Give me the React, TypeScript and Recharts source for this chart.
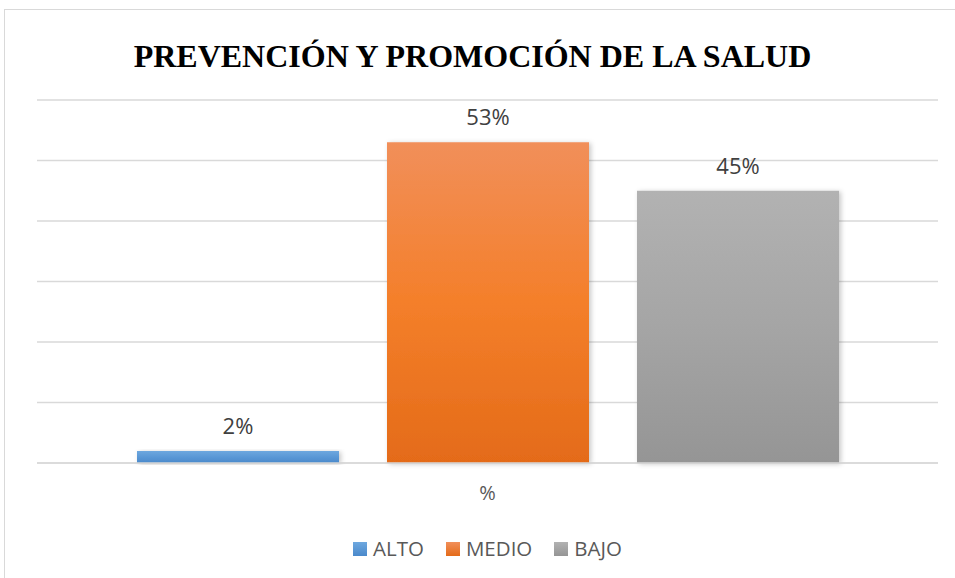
import { BarChart, Bar, XAxis, YAxis, CartesianGrid, Legend, LabelList } from 'recharts';

const categories = ['%'];
const seriesNames = ['ALTO', 'MEDIO', 'BAJO'];
const seriesValues = [2, 53, 45];
const yTicks = [0, 10, 20, 30, 40, 50, 60];

// top / middle / bottom stops of each bar gradient
const gradientStops: [string, string, string][] = [
  ['#6ea8df', '#5b98d6', '#4a89cb'],
  ['#f18f5a', '#f47f2a', '#e46b19'],
  ['#b2b2b2', '#a5a5a5', '#959595'],
];

const rows = categories.map((name) => {
  const row: Record<string, string | number> = { name };
  seriesNames.forEach((s, i) => {
    row[s] = seriesValues[i];
  });
  return row;
});

const FONT = '"Open Sans", sans-serif';

function LegendContent() {
  return (
    <div
      style={{
        height: 65,
        boxSizing: 'border-box',
        paddingTop: 5,
        display: 'flex',
        justifyContent: 'center',
        fontFamily: FONT,
        fontSize: 20.5,
        lineHeight: '20px',
        color: '#595959',
      }}
    >
      {seriesNames.map((s, i) => (
        <div key={s} style={{ display: 'flex', alignItems: 'center', marginRight: i < 2 ? 22 : 0 }}>
          <span
            style={{
              display: 'inline-block',
              width: 14,
              height: 14,
              marginTop: 2,
              marginRight: 6,
              background: `linear-gradient(${gradientStops[i][0]}, ${gradientStops[i][2]})`,
            }}
          />
          <span>{s}</span>
        </div>
      ))}
    </div>
  );
}

export default function App() {
  return (
    <div
      style={{
        position: 'absolute',
        left: 0,
        top: 0,
        width: 955,
        height: 578,
        overflow: 'hidden',
        background: '#fff',
      }}
    >
      <div
        style={{
          position: 'absolute',
          left: 4,
          top: 9,
          width: 1000,
          height: 1000,
          border: '1px solid #d9d9d9',
        }}
      />
      <div
        style={{
          position: 'absolute',
          left: 0,
          top: 40,
          width: 945,
          textAlign: 'center',
          fontFamily: '"Liberation Serif", serif',
          fontWeight: 'bold',
          fontSize: 32,
          lineHeight: '32px',
          color: '#000',
        }}
      >
        PREVENCIÓN Y PROMOCIÓN DE LA SALUD
      </div>
      <div style={{ position: 'absolute', left: 0, top: 0 }}>
        <BarChart
          width={955}
          height={578}
          data={rows}
          margin={{ top: 100, right: 17, left: 37, bottom: 0 }}
          barCategoryGap={100}
          barGap={48}
        >
          <defs>
            {seriesNames.map((s, i) => (
              <linearGradient key={s} id={`grad-${s}`} x1="0" y1="0" x2="0" y2="1">
                <stop offset="0%" stopColor={gradientStops[i][0]} />
                <stop offset="50%" stopColor={gradientStops[i][1]} />
                <stop offset="100%" stopColor={gradientStops[i][2]} />
              </linearGradient>
            ))}
            <filter id="barShadow" x="-10%" y="-10%" width="120%" height="120%">
              <feDropShadow dx="2" dy="1" stdDeviation="2.5" floodColor="#000" floodOpacity="0.22" />
            </filter>
          </defs>
          <CartesianGrid horizontal vertical={false} stroke="#d9d9d9" strokeWidth={1.3} />
          <XAxis
            dataKey="name"
            height={50}
            tickLine={false}
            axisLine={{ stroke: '#d9d9d9', strokeWidth: 1.3 }}
            tickMargin={17}
            tick={{ fontSize: 20, fill: '#595959', fontFamily: FONT }}
          />
          <YAxis hide domain={[0, 60]} ticks={yTicks} />
          <Legend verticalAlign="bottom" content={<LegendContent />} />
          {seriesNames.map((s) => (
            <Bar
              key={s}
              dataKey={s}
              fill={`url(#grad-${s})`}
              filter="url(#barShadow)"
              isAnimationActive={false}
            >
              <LabelList
                dataKey={s}
                position="top"
                offset={17}
                formatter={(v: number) => `${v}%`}
                style={{ fontSize: 22, fill: '#404040', fontFamily: FONT }}
              />
            </Bar>
          ))}
        </BarChart>
      </div>
    </div>
  );
}
